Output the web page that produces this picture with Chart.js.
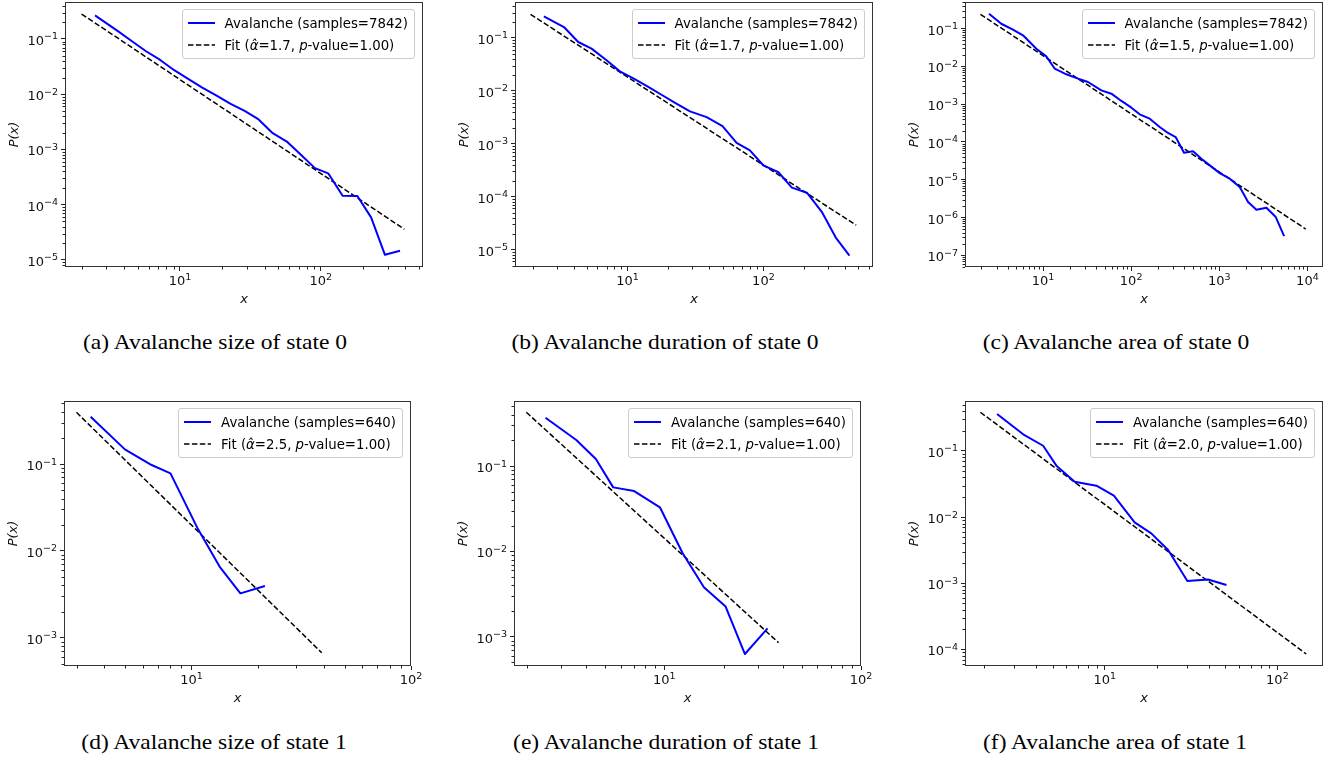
<!DOCTYPE html>
<html><head><meta charset="utf-8">
<script src="https://cdn.jsdelivr.net/npm/chart.js@4.4.1/dist/chart.umd.min.js"></script>
<style>
html,body{margin:0;padding:0;background:#fff;overflow:hidden}
#fig{position:relative;width:1338px;height:759px;overflow:hidden;background:#fff}
#fig canvas{position:absolute}
.leg{position:absolute;border:1px solid #cccccc;border-radius:3px;background:rgba(255,255,255,0.8);padding:2px 6px 2px 5px;font-family:'DejaVu Sans';font-size:13.3px;color:#000}
.row{display:flex;align-items:center;height:22px;white-space:nowrap}
.row svg{margin-right:10px;flex:none}
.cap{position:absolute;font-family:'Liberation Serif';font-size:21px;color:#000;white-space:nowrap;transform:translate(-50%,-50%) scaleX(1.12)}
</style></head>
<body><div id="fig"></div>
<script>
// ---------- data ----------
const captions = [
  '(a) Avalanche size of state 0',
  '(b) Avalanche duration of state 0',
  '(c) Avalanche area of state 0',
  '(d) Avalanche size of state 1',
  '(e) Avalanche duration of state 1',
  '(f) Avalanche area of state 1'
];
const samples = [7842, 7842, 7842, 640, 640, 640];
const alphaHat = ['1.7', '1.7', '1.5', '2.5', '2.1', '2.0'];
const pValues = ['1.00', '1.00', '1.00', '1.00', '1.00', '1.00'];

// (a) size, state 0
const sizeS0X = [2.49, 3.62, 4.56, 5.74, 7.23, 9.1, 11.5, 14.4, 18.2, 22.9, 28.8, 36.2, 45.6, 57.4, 72.3, 91, 113, 143, 182, 228, 286, 366];
const sizeS0Y = [0.268, 0.139, 0.091, 0.060, 0.0417, 0.0272, 0.0187, 0.0132, 0.00946, 0.00668, 0.0050, 0.0035, 0.00197, 0.00139, 0.0008, 0.00046, 0.00037, 0.000145, 0.000144, 0.000059, 0.0000124, 0.0000147];
const sizeS0FitX = [2, 393];
const sizeS0FitY = [0.283, 0.000036];

// (b) duration, state 0
const durS0X = [2.42, 3.40, 4.33, 5.43, 7.0, 8.77, 11.2, 14.1, 17.9, 22.7, 28.8, 38.2, 50, 63.5, 79.5, 100, 129, 162, 209, 269, 341, 430];
const durS0Y = [0.256, 0.161, 0.084, 0.063, 0.0379, 0.0234, 0.0168, 0.0120, 0.00837, 0.00582, 0.0041, 0.0032, 0.00217, 0.00104, 0.00075, 0.00039, 0.00029, 0.000149, 0.000119, 0.000052, 0.0000169, 0.0000077];
const durS0FitX = [1.93, 482];
const durS0FitY = [0.28, 0.000029];

// (c) area, state 0
const areaS0X = [2.44, 3.36, 4.56, 5.93, 8.4, 10.9, 13.6, 18.4, 25, 32.4, 45.9, 59.7, 77.5, 100.7, 125, 162.5, 211, 262, 320, 398, 504, 627, 780, 1012, 1315, 1706, 2123, 2638, 3428, 4375, 5445];
const areaS0Y = [0.249, 0.135, 0.094, 0.0666, 0.0295, 0.0185, 0.0087, 0.0062, 0.00474, 0.00387, 0.00233, 0.0019, 0.00122, 0.00081, 0.00054, 0.000414, 0.000249, 0.000173, 0.000135, 0.000052, 0.0000565, 0.000036, 0.000024, 0.000015, 0.0000107, 0.0000064, 0.00000257, 0.00000161, 0.00000182, 0.00000103, 0.00000032];
const areaS0FitX = [1.95, 9570];
const areaS0FitY = [0.24, 0.000000496];

// (d) size, state 1
const sizeS1X = [3.47, 4.97, 6.58, 8.02, 10.7, 13.5, 16.7, 21.6];
const sizeS1Y = [0.351, 0.1475, 0.0974, 0.0781, 0.0178, 0.00645, 0.00324, 0.00394];
const sizeS1FitX = [2.99, 39.2];
const sizeS1FitY = [0.394, 0.00067];

// (e) duration, state 1
const durS1X = [2.49, 3.57, 4.49, 5.5, 7.03, 9.5, 12.4, 15.9, 20.5, 25.7, 33.5];
const durS1Y = [0.368, 0.202, 0.121, 0.0562, 0.0509, 0.0328, 0.0095, 0.00379, 0.00225, 0.000626, 0.00125];
const durS1FitX = [1.99, 38.1];
const durS1FitY = [0.426, 0.00085];

// (f) area, state 1
const areaS1X = [2.38, 3.37, 4.40, 5.25, 6.7, 8.95, 11.3, 14.9, 18.6, 23.3, 30.1, 39.7, 50.7];
const areaS1Y = [0.363, 0.179, 0.12, 0.06, 0.0343, 0.0299, 0.0211, 0.00834, 0.00568, 0.00318, 0.00108, 0.00114, 0.00094];
const areaS1FitX = [1.905, 147];
const areaS1FitY = [0.385, 0.000085];

// axis ranges and tick values
const xRanges = [[1.524, 533], [1.483, 641], [1.303, 15030], [2.624, 100], [1.722, 100], [1.552, 183.7]];
const yRanges = [[7.46e-6, 0.467], [4.7e-6, 0.479], [4.9e-8, 0.508], [4.72e-4, 0.532], [4.53e-4, 0.578], [5.6e-5, 0.570]];
const xTicks = [[10, 100], [10, 100], [10, 100, 1000, 10000], [10, 100], [10, 100], [10, 100]];
const yTicks = [
  [1e-5, 1e-4, 1e-3, 1e-2, 1e-1],
  [1e-5, 1e-4, 1e-3, 1e-2, 1e-1],
  [1e-7, 1e-6, 1e-5, 1e-4, 1e-3, 1e-2, 1e-1],
  [1e-3, 1e-2, 1e-1],
  [1e-3, 1e-2, 1e-1],
  [1e-4, 1e-3, 1e-2, 1e-1]
];

const seriesX = [sizeS0X, durS0X, areaS0X, sizeS1X, durS1X, areaS1X];
const seriesY = [sizeS0Y, durS0Y, areaS0Y, sizeS1Y, durS1Y, areaS1Y];
const fitX = [sizeS0FitX, durS0FitX, areaS0FitX, sizeS1FitX, durS1FitX, areaS1FitX];
const fitY = [sizeS0FitY, durS0FitY, areaS0FitY, sizeS1FitY, durS1FitY, areaS1FitY];

// ---------- layout (page pixels of each plot frame) ----------
const frames = [
  {L: 65, R: 423, T: 2, B: 267},
  {L: 515, R: 873, T: 2, B: 267},
  {L: 965, R: 1323, T: 2, B: 267},
  {L: 64, R: 411, T: 401, B: 666},
  {L: 514, R: 861, T: 401, B: 666},
  {L: 965, R: 1323, T: 401, B: 666}
];
const capPos = [[214.5, 341.7], [665, 341.7], [1115.5, 341.7], [213.5, 741.7], [665.5, 741.7], [1115, 741.7]];

const FONT = "'DejaVu Sans'";
const BASE_FONT = "13px 'DejaVu Sans'";
const EXP_FONT = "9.5px 'DejaVu Sans'";

function expText(v) {
  const e = Math.round(Math.log10(v));
  return (e < 0 ? '\u2212' : '') + Math.abs(e);
}

// frame, minor ticks, and 10^n tick labels (positions from the chart's own scales)
const frameMinor = {
  id: 'frameMinor',
  afterDraw(chart) {
    const {ctx, chartArea: a, scales} = chart;
    const xs = scales.x, ys = scales.y;
    ctx.save();
    ctx.strokeStyle = '#222';
    ctx.lineWidth = 1;
    ctx.beginPath();
    for (let k = Math.floor(Math.log10(xs.min)); k <= Math.ceil(Math.log10(xs.max)); k++) {
      for (let m = 2; m <= 9; m++) {
        const v = m * Math.pow(10, k);
        if (v <= xs.min || v >= xs.max) continue;
        const px = Math.round(xs.getPixelForValue(v)) + 0.5;
        ctx.moveTo(px, a.bottom); ctx.lineTo(px, a.bottom + 2.5);
      }
    }
    for (let k = Math.floor(Math.log10(ys.min)); k <= Math.ceil(Math.log10(ys.max)); k++) {
      for (let m = 2; m <= 9; m++) {
        const v = m * Math.pow(10, k);
        if (v <= ys.min || v >= ys.max) continue;
        const py = Math.round(ys.getPixelForValue(v)) + 0.5;
        ctx.moveTo(a.left, py); ctx.lineTo(a.left - 2.5, py);
      }
    }
    ctx.stroke();
    ctx.strokeStyle = '#333';
    ctx.strokeRect(a.left + 0.5, a.top + 0.5, a.right - a.left - 1, a.bottom - a.top - 1);

    // tick labels: "10" with a raised exponent
    ctx.fillStyle = '#111';
    ctx.textBaseline = 'alphabetic';
    ctx.textAlign = 'left';
    xs.ticks.forEach(t => {
      const px = xs.getPixelForValue(t.value);
      const ex = expText(t.value);
      ctx.font = BASE_FONT; const wb = ctx.measureText('10').width;
      ctx.font = EXP_FONT; const we = ctx.measureText(ex).width;
      const x0 = px - (wb + we) / 2;
      const yb = a.bottom + 18;
      ctx.font = BASE_FONT; ctx.fillText('10', x0, yb);
      ctx.font = EXP_FONT; ctx.fillText(ex, x0 + wb, yb - 5);
    });
    ys.ticks.forEach(t => {
      const py = ys.getPixelForValue(t.value);
      const ex = expText(t.value);
      ctx.font = BASE_FONT; const wb = ctx.measureText('10').width;
      ctx.font = EXP_FONT; const we = ctx.measureText(ex).width;
      const x0 = a.left - 7 - (wb + we);
      const yb = py + 6;
      ctx.font = BASE_FONT; ctx.fillText('10', x0, yb);
      ctx.font = EXP_FONT; ctx.fillText(ex, x0 + wb, yb - 5.5);
    });
    ctx.restore();
  }
};

const fig = document.getElementById('fig');

frames.forEach((f, i) => {
  const cv = document.createElement('canvas');
  const w = f.R - f.L + 90, h = f.B - f.T + 68;
  cv.width = w; cv.height = h;
  cv.style.left = (f.L - 70) + 'px';
  cv.style.top = (f.T - 20) + 'px';
  cv.style.width = w + 'px'; cv.style.height = h + 'px';
  fig.appendChild(cv);

  const avalanche = seriesX[i].map((x, j) => ({x, y: seriesY[i][j]}));
  const fit = fitX[i].map((x, j) => ({x, y: fitY[i][j]}));

  new Chart(cv, {
    type: 'line',
    data: {
      datasets: [
        {label: 'Avalanche (samples=' + samples[i] + ')', data: avalanche, borderColor: '#0000ff', borderWidth: 2, pointRadius: 0, tension: 0, fill: false, borderJoinStyle: 'round'},
        {label: 'Fit', data: fit, borderColor: '#000000', borderWidth: 1.5, borderDash: [5.5, 2.4], pointRadius: 0, tension: 0, fill: false}
      ]
    },
    options: {
      responsive: false,
      animation: false,
      devicePixelRatio: 1,
      layout: {padding: {left: 5, top: 20, right: 20, bottom: 0}},
      plugins: {legend: {display: false}, tooltip: {enabled: false}},
      scales: {
        x: {
          type: 'logarithmic', min: xRanges[i][0], max: xRanges[i][1],
          afterBuildTicks: s => { s.ticks = xTicks[i].map(v => ({value: v, major: true})); },
          afterFit: s => { s.height = 48; },
          ticks: {display: false, autoSkip: false, maxRotation: 0, minRotation: 0},
          grid: {drawOnChartArea: false, drawTicks: true, tickLength: 4, tickColor: '#222', tickWidth: 1},
          border: {display: false},
          title: {display: true, text: 'x', color: '#111', font: {family: FONT, size: 13, style: 'italic'}, padding: {top: 0, bottom: 8}}
        },
        y: {
          type: 'logarithmic', min: yRanges[i][0], max: yRanges[i][1],
          afterBuildTicks: s => { s.ticks = yTicks[i].map(v => ({value: v, major: true})); },
          afterFit: s => { s.width = 65; },
          ticks: {display: false, autoSkip: false},
          grid: {drawOnChartArea: false, drawTicks: true, tickLength: 4, tickColor: '#222', tickWidth: 1},
          border: {display: false},
          title: {display: true, text: 'P(x)', color: '#111', font: {family: FONT, size: 13, style: 'italic'}, padding: {top: 7, bottom: 0}}
        }
      }
    },
    plugins: [frameMinor]
  });

  // legend
  const leg = document.createElement('div');
  leg.className = 'leg';
  leg.style.top = (f.T + 7) + 'px';
  leg.style.right = (1338 - (f.R - 8)) + 'px';
  leg.innerHTML =
    '<div class="row"><svg width="27" height="10"><line x1="0" y1="5" x2="27" y2="5" stroke="#0000ff" stroke-width="2"/></svg><span>Avalanche (samples=' + samples[i] + ')</span></div>' +
    '<div class="row"><svg width="27" height="10"><line x1="0" y1="5" x2="27" y2="5" stroke="#000" stroke-width="1.5" stroke-dasharray="5.5 2.4"/></svg><span>Fit (<i>\u03B1\u0302</i>=' + alphaHat[i] + ', <i>p</i>-value=' + pValues[i] + ')</span></div>';
  fig.appendChild(leg);

  // caption
  const cap = document.createElement('div');
  cap.className = 'cap';
  cap.style.left = capPos[i][0] + 'px';
  cap.style.top = capPos[i][1] + 'px';
  cap.textContent = captions[i];
  fig.appendChild(cap);
});
</script>
</body></html>
